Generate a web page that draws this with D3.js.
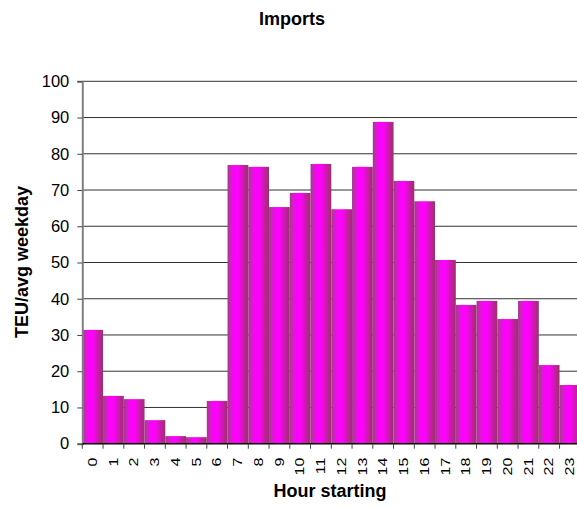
<!DOCTYPE html>
<html>
<head>
<meta charset="utf-8">
<script src="https://cdn.jsdelivr.net/npm/d3@7/dist/d3.min.js"></script>
<style>
  html, body { margin: 0; padding: 0; background: #fff; }
  svg { display: block; font-family: "Liberation Sans", Arial, sans-serif; }
</style>
</head>
<body>
<svg id="chart" width="577" height="508"></svg>
<script>
// Hourly import volumes (TEU per average weekday)
const hours = ["0","1","2","3","4","5","6","7","8","9","10","11","12","13","14","15","16","17","18","19","20","21","22","23"];
const teu = [31.4, 13.2, 12.3, 6.5, 2.1, 1.8, 11.8, 76.9, 76.4, 65.3, 69.2, 77.2, 64.7, 76.4, 88.8, 72.5, 66.9, 50.7, 38.3, 39.4, 34.4, 39.4, 21.7, 16.2];
const yTicks = [0, 10, 20, 30, 40, 50, 60, 70, 80, 90, 100];

const title = "Imports";
const xTitle = "Hour starting";
const yTitle = "TEU/avg weekday";

const svg = d3.select("#chart");
const plotLeft = 82.3, plotRight = 580.3, plotTop = 81.3, plotBottom = 443.7;

const x = d3.scaleBand().domain(hours).range([plotLeft, plotRight]).padding(0);
const y = d3.scaleLinear().domain([0, 100]).range([plotBottom, plotTop]);

// Cylinder-style shading across each bar
const defs = svg.append("defs");
const grad = defs.append("linearGradient").attr("id", "barShade")
  .attr("x1", "0%").attr("x2", "100%").attr("y1", "0%").attr("y2", "0%");
[[0, "#a03a8c"], [0.12, "#c828b8"], [0.32, "#ff00ff"], [0.52, "#fb04f8"], [0.78, "#c81ca8"], [1, "#993366"]]
  .forEach(([o, c]) => grad.append("stop").attr("offset", o).attr("stop-color", c));

// Horizontal gridlines
svg.append("g").selectAll("line").data(yTicks.filter(d => d > 0)).join("line")
  .attr("x1", plotLeft).attr("x2", 577)
  .attr("y1", d => y(d)).attr("y2", d => y(d))
  .attr("stroke", "#333").attr("stroke-width", 1);

// Bars
svg.append("g").selectAll("rect").data(hours).join("rect")
  .attr("x", d => x(d))
  .attr("width", x.bandwidth())
  .attr("y", (d, i) => y(teu[i]))
  .attr("height", (d, i) => y(0) - y(teu[i]))
  .attr("fill", "url(#barShade)");

// Y axis
const yAxis = svg.append("g").attr("transform", `translate(${plotLeft},0)`)
  .call(d3.axisLeft(y).tickValues(yTicks).tickSize(5).tickPadding(8));
yAxis.select(".domain").attr("stroke", "#808080").attr("stroke-width", 2);
yAxis.selectAll(".tick line").attr("stroke", "#444");
yAxis.selectAll(".tick text").attr("font-size", 16.5).attr("fill", "#000")
  .attr("font-family", "Liberation Sans, Arial, sans-serif");

// X axis with ticks on band boundaries
const xAxisG = svg.append("g").attr("transform", `translate(0,${plotBottom})`);
xAxisG.append("line").attr("x1", plotLeft).attr("x2", 577).attr("y1", 0).attr("y2", 0)
  .attr("stroke", "#000").attr("stroke-width", 1.5);
xAxisG.selectAll("line.tk").data(hours).join("line").attr("class", "tk")
  .attr("x1", d => x(d)).attr("x2", d => x(d))
  .attr("y1", 0).attr("y2", 5)
  .attr("stroke", "#444");
// Vertical hour labels, slightly condensed across the band
xAxisG.selectAll("text").data(hours).join("text")
  .attr("transform", d => `translate(${x(d) + x.bandwidth() / 2},14) scale(0.75,1) rotate(-90)`)
  .attr("text-anchor", "end")
  .attr("dy", "0.35em")
  .attr("font-size", 16)
  .attr("fill", "#000")
  .text(d => d);

// Titles
svg.append("text").attr("x", 292).attr("y", 25).attr("text-anchor", "middle")
  .attr("font-size", 18).attr("font-weight", "bold").text(title);
svg.append("text").attr("x", 330).attr("y", 497).attr("text-anchor", "middle")
  .attr("font-size", 18).attr("font-weight", "bold").text(xTitle);
svg.append("text").attr("transform", "translate(28,262) rotate(-90)").attr("text-anchor", "middle")
  .attr("font-size", 18).attr("font-weight", "bold").text(yTitle);
</script>
</body>
</html>
